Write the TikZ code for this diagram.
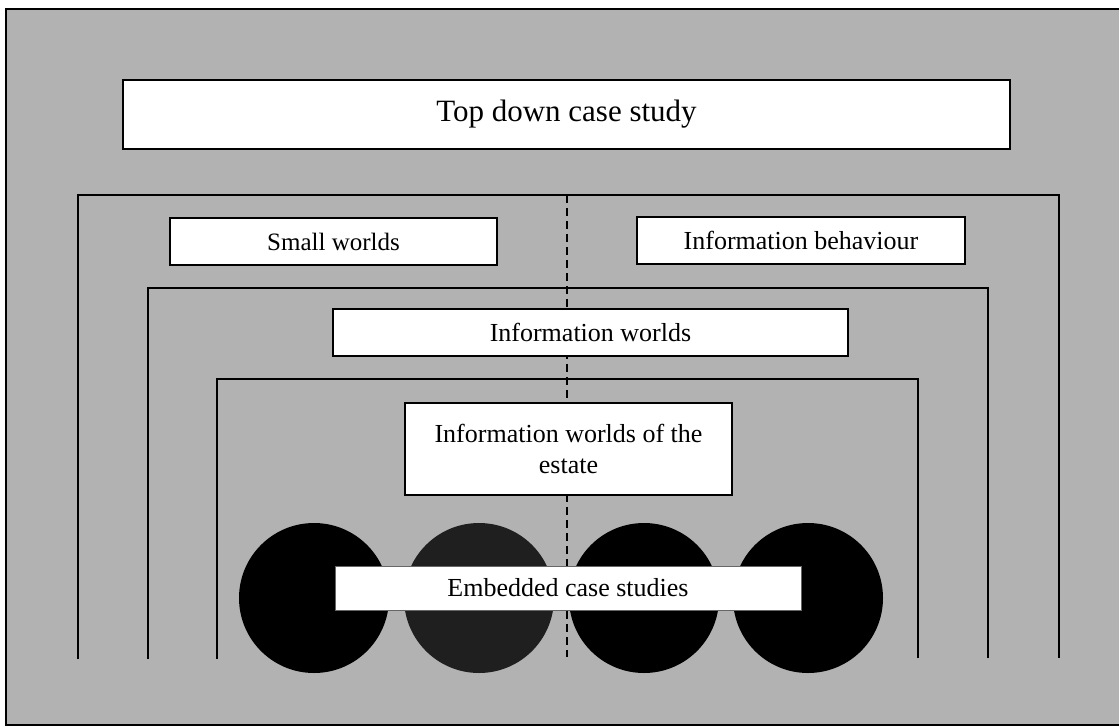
\documentclass[tikz,border=0pt]{standalone}
\usepackage{fontspec}
\setmainfont{Liberation Serif}
\begin{document}
\begin{tikzpicture}[x=1pt,y=-1pt,
  lbox/.style={draw=black, line width=2pt, fill=white, inner sep=0pt,
    font=\fontsize{26pt}{31pt}\selectfont, align=center},
  bracket/.style={draw=black, line width=2pt},
  casecirc/.style={circle, fill=black, draw=none, minimum size=150pt, inner sep=0pt},
  divider/.style={draw=black, line width=2pt, dash pattern=on 8pt off 5pt}
]
\useasboundingbox (0,0) rectangle (1119,726);
\clip (0,0) rectangle (1119,726);
\fill[black!30] (6,9) rectangle (1125,725);
\draw[line width=2.5pt] (1125,9) -- (6,9) -- (6,725) -- (1125,725);
% nested brackets
\coordinate (b1l) at (78,659);  \coordinate (b1r) at (1059,658);
\coordinate (b2l) at (148,659); \coordinate (b2r) at (988,658);
\coordinate (b3l) at (217,659); \coordinate (b3r) at (918,658);
\draw[bracket] (b1l) -- (78,195) -- (1059,195) -- (b1r);
\draw[bracket] (b2l) -- (148,288) -- (988,288) -- (b2r);
\draw[bracket] (b3l) -- (217,379) -- (918,379) -- (b3r);
% dashed divider
\coordinate (dtop) at (567,195);
\coordinate (dbot) at (567,657);
\draw[divider] (dtop) -- (dbot);
% circles
\node[casecirc] (c1) at (314,598) {};
\node[casecirc, fill=black!88] (c2) at (479,598) {};
\node[casecirc] (c3) at (644,598) {};
\node[casecirc] (c4) at (808,598) {};
% boxes
\node[lbox, minimum width=887pt, minimum height=69pt, font=\fontsize{31pt}{36pt}\selectfont] (top) at (566.5,114.5) {Top down case study};
\node[lbox, minimum width=327pt, minimum height=47pt, font=\fontsize{25pt}{30pt}\selectfont] (sw) at (333.5,241.5) {Small worlds};
\node[lbox, minimum width=328pt, minimum height=47pt] (ib) at (801,240.5) {Information behaviour};
\node[lbox, minimum width=515pt, minimum height=47pt] (iw) at (590.5,332.5) {Information worlds};
\node[lbox, minimum width=327pt, minimum height=92pt] (iwe) at (568.5,449) {Information worlds of the\\estate};
\node[lbox, line width=0.8pt, draw=black!60, minimum width=466pt, minimum height=44pt] (ecs) at (568,588) {Embedded case studies};
\end{tikzpicture}
\end{document}
